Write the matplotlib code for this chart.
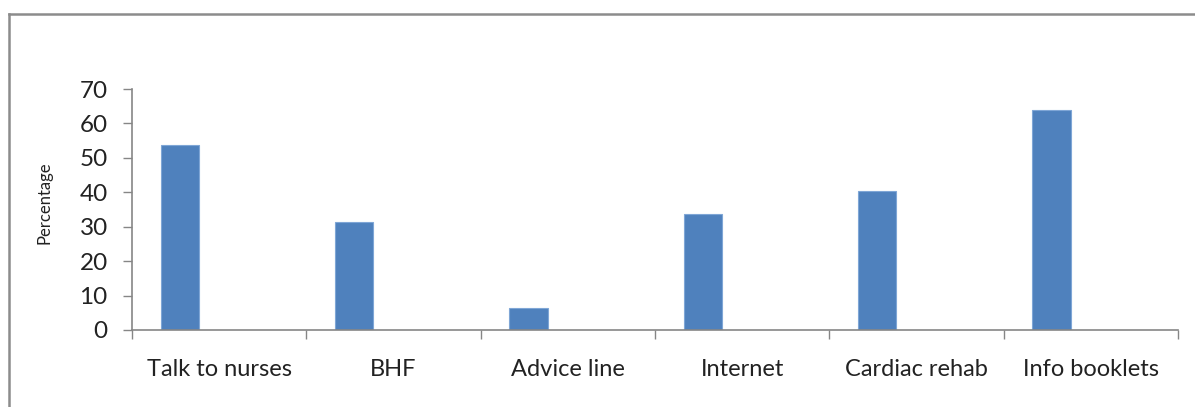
import matplotlib
matplotlib.use("Agg")
import matplotlib.pyplot as plt
from matplotlib.lines import Line2D
import numpy as np

categories = ["Talk to nurses", "BHF", "Advice line", "Internet", "Cardiac rehab", "Info booklets"]
values = [53.8, 31.4, 6.4, 33.6, 40.3, 63.8]
y_ticks = [0, 10, 20, 30, 40, 50, 60, 70]
y_label = "Percentage"

plt.rcParams['font.family'] = ['Lato', 'DejaVu Sans']

W, H = 1195, 407
fig = plt.figure(figsize=(W / 100, H / 100), dpi=100)
ax = fig.add_axes([132 / W, 1 - 330 / H, (1178 - 132) / W, (330 - 89) / H])

axis_color = "#868686"
x = np.arange(len(categories))
ax.bar(x + 0.275, values, width=0.22, color="#4F81BD", edgecolor="#7FA6D6", linewidth=0.8, zorder=2)

ax.set_xlim(0, len(categories))
ax.set_ylim(0, 70)
ax.set_yticks(y_ticks)
ax.set_yticklabels([str(v) for v in y_ticks], fontsize=17.5, color="#222222")
ax.tick_params(axis='y', direction='out', length=6.5, width=1, color=axis_color, pad=11)

ax.set_xticks(np.arange(len(categories) + 1))
ax.set_xticklabels([])
ax.set_xticks(x + 0.5, minor=True)
ax.set_xticklabels(categories, minor=True, fontsize=17, color="#222222")
ax.tick_params(axis='x', which='major', direction='out', length=6.5, width=1, color=axis_color)
ax.tick_params(axis='x', which='minor', length=0, pad=21)

for s in ['top', 'right']:
    ax.spines[s].set_visible(False)
for s in ['left', 'bottom']:
    ax.spines[s].set_color(axis_color)
    ax.spines[s].set_linewidth(1.2)

ax.set_ylabel(y_label, fontsize=12, color="#222222")
ax.yaxis.set_label_coords((52 - 132) / (1178 - 132), 0.53)

# outer chart frame (top and left edges visible)
fx = 8.5 / W
fy = 1 - 14 / H
fig.add_artist(Line2D([fx, 1.0], [fy, fy], transform=fig.transFigure, color="#8C8C8C", linewidth=1.8))
fig.add_artist(Line2D([fx, fx], [0, fy], transform=fig.transFigure, color="#8C8C8C", linewidth=1.8))

fig.savefig("out.png", dpi=100)
